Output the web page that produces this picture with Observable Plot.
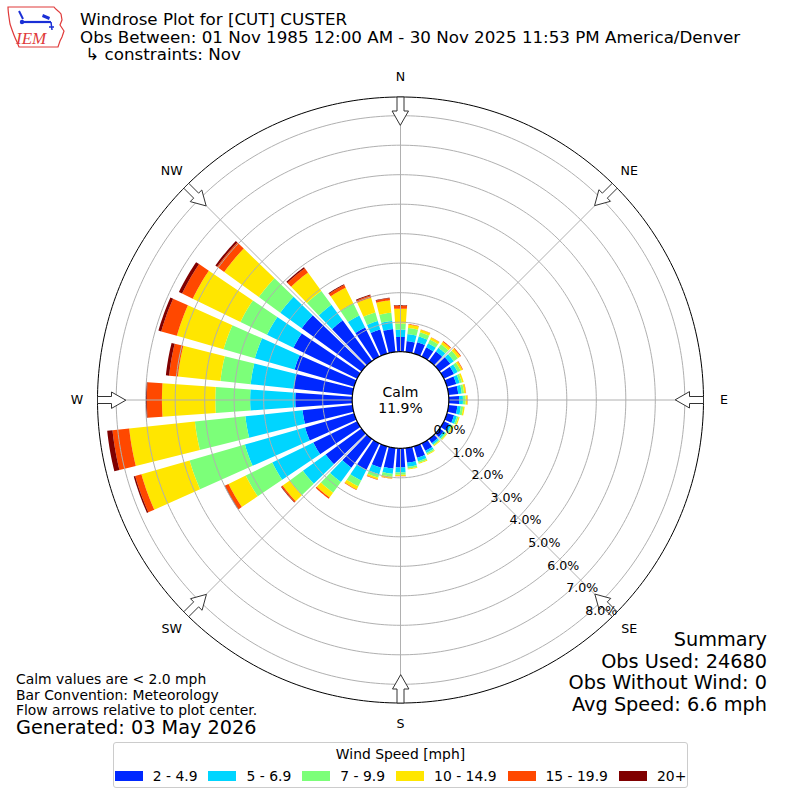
<!DOCTYPE html>
<html>
<head>
<meta charset="utf-8">
<script src="https://cdn.jsdelivr.net/npm/d3@7"></script>
<script src="https://cdn.jsdelivr.net/npm/@observablehq/plot@0.6"></script>
<style>
  body { margin: 0; background: #fff; font-family: "DejaVu Sans", sans-serif; }
  #wrap { position: relative; width: 800px; height: 800px; overflow: hidden; background: #fff; }
  #chart { position: absolute; left: 0; top: 0; }
  .t { position: absolute; white-space: pre; color: #000; }
  .r { position: absolute; right: 33px; white-space: pre; color: #000; font-size: 19.3px; line-height: 22px; text-align: right; }
  #legend { position: absolute; left: 113px; top: 742px; width: 575px; height: 46px; box-sizing: border-box;
            border: 1px solid #cccccc; border-radius: 3px; background: #fff; }
  #legend .lt { position: absolute; left: 0; right: 0; top: 3px; text-align: center; font-size: 13.9px; line-height: 16px; white-space: nowrap; }
  #legend .row { position: absolute; left: 0; right: 0; top: 25px; height: 16px; display: flex; justify-content: center; align-items: center; font-size: 13.9px; line-height: 16px; white-space: nowrap; }
  #legend .sw { flex: 0 0 auto; width: 28px; height: 10px; margin-right: 10px; }
  #legend .lab { flex: 0 0 auto; margin-right: 11px; white-space: nowrap; }
  #legend .lab:last-child { margin-right: 0; }
</style>
</head>
<body>
<div id="wrap">
  <div id="chart"></div>
  <svg class="t" style="left:5px;top:3px" width="64" height="50" viewBox="0 0 64 50">
    <path d="M3,4 L49,4 C51,7 54,8 56,11 L57,17 L55,22 L59,28 L57,34 L55,38 L53,44 L14,44 L12,39 C9,33 7,27 5,21 C4,14 3,9 3,4 Z" fill="none" stroke="#e03a3a" stroke-width="1.2"/>
    <path d="M14,8 L18,16" stroke="#1a2fd6" stroke-width="2" fill="none"/>
    <path d="M16,19 L46,19" stroke="#1a2fd6" stroke-width="2.2" fill="none"/>
    <circle cx="17" cy="19" r="2.2" fill="#1a2fd6"/>
    <path d="M38,11 L45,14 L44,17 L37,14 Z" fill="#1a2fd6"/>
    <path d="M46,19 L47,27 M44,24 L49,24" stroke="#1a2fd6" stroke-width="1.5" fill="none"/>
    <text x="11" y="41" font-family="Liberation Serif, serif" font-style="italic" font-size="17" fill="#e03a3a">IEM</text>
  </svg>
  <div class="t" style="left:80px;top:11.3px;font-size:16.7px;line-height:17.3px">Windrose Plot for [CUT] CUSTER
Obs Between: 01 Nov 1985 12:00 AM - 30 Nov 2025 11:53 PM America/Denver
 ↳ constraints: Nov</div>
  <div class="t" style="left:16px;top:672.3px;font-size:13.9px;line-height:15.4px">Calm values are &lt; 2.0 mph
Bar Convention: Meteorology
Flow arrows relative to plot center.</div>
  <div class="t" style="left:16px;top:717px;font-size:19.3px;line-height:22px">Generated: 03 May 2026</div>
  <div class="r" style="top:628.8px">Summary</div>
  <div class="r" style="top:650.5px">Obs Used: 24680</div>
  <div class="r" style="top:672.2px">Obs Without Wind: 0</div>
  <div class="r" style="top:693.9px">Avg Speed: 6.6 mph</div>
  <div id="legend"><div class="lt">Wind Speed [mph]</div><div class="row" id="legrow"></div></div>
</div>
<script>
// ---------------- data ----------------
const directions = d3.range(0, 360, 10); // 0,10,...,350 (direction wind is from)
const speedBins = ["2 - 4.9", "5 - 6.9", "7 - 9.9", "10 - 14.9", "15 - 19.9", "20+"];
const binColors = ["#0028ff", "#00d5ff", "#7cff79", "#ffe600", "#ff4800", "#800000"];
// frequency (%) per direction, one array per speed bin
const spd2to5 = [0.50,0.37,0.40,0.35,0.40,0.45,0.38,0.33,0.33,0.35,0.30,0.25,0.20,0.17,0.17,0.28,0.40,0.50,
                 0.65,0.70,0.75,1.00,1.20,1.50,1.65,1.73,1.70,1.93,2.00,2.10,2.40,2.50,1.70,1.10,0.85,0.78];
const spd5to7 = [0.25,0.24,0.20,0.15,0.15,0.15,0.14,0.12,0.12,0.13,0.12,0.10,0.09,0.07,0.06,0.08,0.12,0.14,
                 0.17,0.18,0.23,0.40,0.60,0.95,1.55,2.12,1.95,1.53,1.47,1.40,1.00,0.90,0.65,0.45,0.30,0.28];
const spd7to10 = [0.21,0.21,0.15,0.14,0.15,0.17,0.11,0.08,0.08,0.09,0.08,0.06,0.05,0.05,0.04,0.05,0.06,0.06,
                  0.08,0.10,0.12,0.22,0.45,0.55,1.00,1.95,1.72,1.18,1.03,1.10,1.00,0.90,0.58,0.45,0.30,0.28];
const spd10to15 = [0.50,0.11,0.09,0.08,0.10,0.10,0.07,0.06,0.06,0.06,0.05,0.04,0.04,0.03,0.03,0.03,0.03,0.03,
                   0.04,0.06,0.06,0.12,0.20,0.30,0.65,1.70,2.24,1.81,1.45,1.65,1.80,1.45,0.77,0.60,0.52,0.42];
const spd15to20 = [0.10,0.02,0.01,0.01,0.03,0.03,0.02,0.00,0.01,0.01,0.00,0.00,0.00,0.00,0.00,0.00,0.00,0.00,
                   0.01,0.01,0.02,0.02,0.05,0.05,0.13,0.22,0.57,0.51,0.30,0.55,0.40,0.30,0.18,0.10,0.08,0.07];
const spd20up = [0.02,0.00,0.00,0.00,0.00,0.00,0.00,0.00,0.00,0.00,0.00,0.00,0.00,0.00,0.00,0.00,0.00,0.00,
                 0.00,0.00,0.00,0.00,0.00,0.02,0.02,0.05,0.18,0.03,0.11,0.10,0.12,0.07,0.05,0.03,0.03,0.02];
const calmPct = 11.9;
const ringTicks = [0, 1, 2, 3, 4, 5, 6, 7, 8];
const compassNames = ["N", "NE", "E", "SE", "S", "SW", "W", "NW"];
const compassAngles = [0, 45, 90, 135, 180, 225, 270, 315];

// ---------------- geometry (plot units: 1 unit = 1 %) ----------------
const PX = 29.5;            // pixels per 1 %
const W = 800, H = 800, CX = 400, CY = 399.5;
const CALM_R = 48.3 / PX;   // radius of calm circle (0 % ring)
const OUTER_R = 303 / PX;   // outer frame
const LABEL_R = 323.5 / PX; // compass labels
const TICK_ANGLE = 140;     // bearing of the radial tick labels
const OPEN = 8;             // angular width of a bar, degrees
const rad = Math.PI / 180;
const polar = (r, deg) => ({x: r * Math.sin(deg * rad), y: r * Math.cos(deg * rad)});

const series = [spd2to5, spd5to7, spd7to10, spd10to15, spd15to20, spd20up];
const wedges = [];
directions.forEach((d, i) => {
  let cum = 0;
  series.forEach((s, k) => {
    const v = s[i];
    if (!(v > 0)) return;
    const r0 = CALM_R + cum, r1 = CALM_R + cum + v;
    cum += v;
    const id = d + "-" + k, n = 10;
    for (let j = 0; j <= n; j++) wedges.push({id, bin: speedBins[k], ...polar(r1, d - OPEN / 2 + OPEN * j / n)});
    for (let j = n; j >= 0; j--) wedges.push({id, bin: speedBins[k], ...polar(r0, d - OPEN / 2 + OPEN * j / n)});
  });
});

const circle = (r, key) => d3.range(0, 360, 1).map(a => ({key, ...polar(r, a)}));
const rings = ringTicks.slice(1).flatMap(t => circle(CALM_R + t, t));
const spokes = compassAngles.map(a => {
  const p = polar(CALM_R, a), q = polar(OUTER_R, a);
  return {x1: p.x, y1: p.y, x2: q.x, y2: q.y};
});

// inward-pointing flow arrows at the frame
const arrowShape = [[275,0],[289,8],[289,3.5],[303,3.5],[303,-3.5],[289,-3.5],[289,-8]]; // [radial px, lateral px]
const arrows = compassAngles.flatMap(a => arrowShape.map(([s, t]) => {
  const sr = s / PX, tr = t / PX, c = Math.cos(a * rad), sn = Math.sin(a * rad);
  return {a, x: sr * sn + tr * c, y: sr * c - tr * sn};
}));

const tickLabels = ringTicks.map(t => ({...polar(CALM_R + t, TICK_ANGLE), label: t.toFixed(1) + "%"}));
const compass = compassNames.map((name, i) => ({name, ...polar(LABEL_R, compassAngles[i])}));

const chart = Plot.plot({
  width: W, height: H, margin: 0,
  x: {domain: [-CX / PX, (W - CX) / PX], range: [0, W], axis: null},
  y: {domain: [-(H - CY) / PX, CY / PX], range: [H, 0], axis: null},
  color: {domain: speedBins, range: binColors},
  style: {fontFamily: "DejaVu Sans", background: "transparent", color: "black"},
  marks: [
    Plot.line(wedges, {x: "x", y: "y", z: "id", fill: "bin", stroke: "none", curve: "linear-closed"}),
    Plot.line(rings, {x: "x", y: "y", z: "key", stroke: "#b0b0b0", strokeWidth: 1, curve: "linear-closed"}),
    Plot.link(spokes, {x1: "x1", y1: "y1", x2: "x2", y2: "y2", stroke: "#b0b0b0", strokeWidth: 1}),
    Plot.line(circle(OUTER_R, "outer"), {x: "x", y: "y", stroke: "black", strokeWidth: 1, curve: "linear-closed"}),
    Plot.line(circle(CALM_R, "calm"), {x: "x", y: "y", fill: "white", stroke: "black", strokeWidth: 1.2, curve: "linear-closed"}),
    Plot.text([{x: 0, y: 0, label: "Calm\n" + calmPct.toFixed(1) + "%"}], {x: "x", y: "y", text: "label", fontSize: 14, lineHeight: 1.15, fill: "black"}),
    Plot.line(arrows, {x: "x", y: "y", z: "a", fill: "white", stroke: "#333", strokeWidth: 1, curve: "linear-closed"}),
    Plot.text(tickLabels, {x: "x", y: "y", text: "label", textAnchor: "start", dx: 2, dy: -7, fontSize: 12.6, fill: "black"}),
    Plot.text(compass, {x: "x", y: "y", text: "name", fontSize: 12.6, fill: "black"})
  ]
});
document.getElementById("chart").appendChild(chart);

// legend
const row = document.getElementById("legrow");
speedBins.forEach((b, i) => {
  const sw = document.createElement("span"); sw.className = "sw"; sw.style.background = binColors[i];
  const lab = document.createElement("span"); lab.className = "lab"; lab.textContent = b;
  row.appendChild(sw); row.appendChild(lab);
});
</script>
</body>
</html>
